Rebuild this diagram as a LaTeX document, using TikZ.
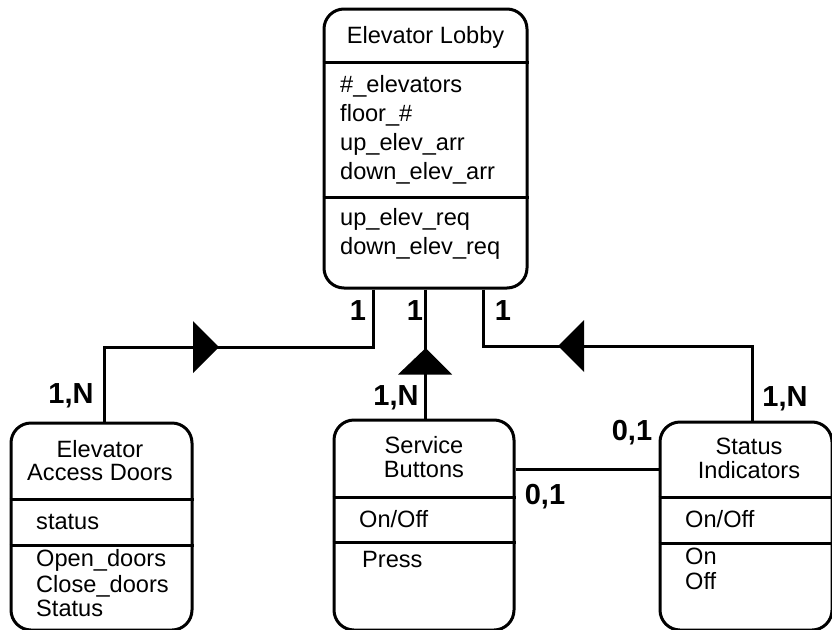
\documentclass[tikz,border=0pt]{standalone}
\usepackage{fontspec}
\setmainfont{Liberation Sans}
\begin{document}
\begin{tikzpicture}[x=1pt,y=-1pt,
  box/.style={draw, line width=3pt, rounded corners=20pt, rectangle, inner sep=0pt},
  sep/.style={line width=3pt},
  conn/.style={line width=3pt},
  tri/.style={fill=black, draw=none},
  ttl/.style={anchor=base, inner sep=0pt, font=\fontsize{23.6}{27}\selectfont},
  attr/.style={anchor=base west, inner sep=0pt, font=\fontsize{23.6}{27}\selectfont},
  card/.style={anchor=base, inner sep=0pt, font=\fontsize{29}{32}\selectfont\bfseries}]
\useasboundingbox (0,0) rectangle (832,629);

% boxes
\node[box, minimum width=203pt, minimum height=279pt] (lobby) at (425.5,148.5) {};
\node[box, minimum width=181pt, minimum height=207pt] (doors) at (101.5,526.5) {};
\node[box, minimum width=180pt, minimum height=210pt] (buttons) at (424,525) {};
\node[box, minimum width=172pt, minimum height=208pt] (status) at (746,526) {};

% separators
\draw[sep] (lobby.west |- 0,62) -- (lobby.east |- 0,62);
\draw[sep] (lobby.west |- 0,197) -- (lobby.east |- 0,197);
\draw[sep] (doors.west |- 0,499) -- (doors.east |- 0,499);
\draw[sep] (doors.west |- 0,545) -- (doors.east |- 0,545);
\draw[sep] (buttons.west |- 0,497) -- (buttons.east |- 0,497);
\draw[sep] (buttons.west |- 0,542) -- (buttons.east |- 0,542);
\draw[sep] (status.west |- 0,497) -- (status.east |- 0,497);
\draw[sep] (status.west |- 0,543) -- (status.east |- 0,543);

% lobby texts
\node[ttl] (lt) at (425.5,43) {Elevator Lobby};
\node[attr] (la1) at (340,92) {\#\_elevators};
\node[attr] (la2) at (340,121) {floor\_\#};
\node[attr] (la3) at (340,150) {up\_elev\_arr};
\node[attr] (la4) at (340,179) {down\_elev\_arr};
\node[attr] (lm1) at (340,225) {up\_elev\_req};
\node[attr] (lm2) at (340,254) {down\_elev\_req};

% doors texts
\node[ttl] (dt1) at (100,457) {Elevator};
\node[ttl] (dt2) at (100,480) {Access Doors};
\node[attr] (da1) at (36,529) {status};
\node[attr] (dm1) at (36,566) {Open\_doors};
\node[attr] (dm2) at (36,592) {Close\_doors};
\node[attr] (dm3) at (36,616) {Status};

% buttons texts
\node[ttl] (bt1) at (424,453) {Service};
\node[ttl] (bt2) at (424,477) {Buttons};
\node[attr] (ba1) at (359,527) {On/Off};
\node[attr] (bm1) at (362,567) {Press};

% status texts
\node[ttl] (st1) at (749,454) {Status};
\node[ttl] (st2) at (749,478) {Indicators};
\node[attr] (sa1) at (685,527) {On/Off};
\node[attr] (sm1) at (685,564) {On};
\node[attr] (sm2) at (685,589) {Off};

% connectors
\coordinate (c1) at (373,347);
\coordinate (c3) at (483,346);
\draw[conn] (373,0 |- lobby.south) -- (c1) -| (104,0 |- doors.north);
\draw[conn] (425.7,0 |- lobby.south) -- (425.7,0 |- buttons.north);
\draw[conn] (483,0 |- lobby.south) -- (c3) -| (752,0 |- status.north);
\draw[conn] (buttons.east |- 0,469) -- (status.west |- 0,469);

% triangles
\fill[tri] (193,321) -- (219,347) -- (193,373) -- cycle;
\fill[tri] (398,374.5) -- (425.7,348) -- (452,374.5) -- cycle;
\fill[tri] (584,320) -- (558,346) -- (584,372) -- cycle;

% cardinalities
\node[card] (k1) at (358,320) {1};
\node[card] (k2) at (415,320) {1};
\node[card] (k3) at (503,320) {1};
\node[card] (k4) at (71,403) {1,N};
\node[card] (k5) at (396,405) {1,N};
\node[card] (k6) at (785,406) {1,N};
\node[card] (k7) at (632,440) {0,1};
\node[card] (k8) at (545,504) {0,1};
\end{tikzpicture}
\end{document}
